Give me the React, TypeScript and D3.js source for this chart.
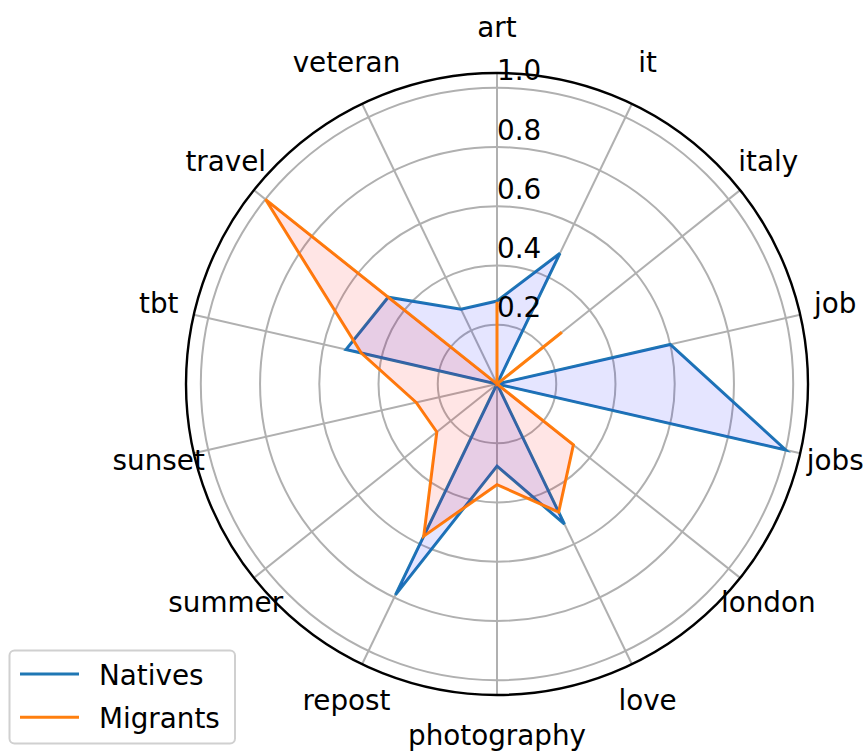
import * as d3 from 'd3';

const CATEGORIES = [
  'art', 'it', 'italy', 'job', 'jobs', 'london', 'love',
  'photography', 'repost', 'summer', 'sunset', 'tbt', 'travel', 'veteran',
];
const NATIVES = [0.28, 0.49, 0.0, 0.6, 1.0, 0.0, 0.525, 0.277, 0.79, 0.0, 0.0, 0.523, 0.47, 0.28];
const MIGRANTS = [0.278, 0.0, 0.28, 0.0, 0.0, 0.33, 0.48, 0.34, 0.57, 0.26, 0.28, 0.47, 1.0, 0.0];
const SERIES_NAMES = ['Natives', 'Migrants'];
const R_TICKS = [0.2, 0.4, 0.6, 0.8, 1.0];
const R_MAX = 1.05;

const W = 865;
const H = 751;
const CX = 497;
const CY = 384;
const FONT = '"DejaVu Sans", sans-serif';
const FS = 27.8;

const LINE_COLORS = ['#1f77b4', '#ff7f0e'];
const FILL_COLORS = ['blue', 'red'];

export default function App() {
  const r = d3.scaleLinear().domain([0, R_MAX]).range([0, 311]);
  const angle = d3
    .scaleLinear()
    .domain([0, CATEGORIES.length])
    .range([0, 2 * Math.PI]);

  const radial = d3
    .lineRadial<number>()
    .angle((_, i) => angle(i))
    .radius((d) => r(d))
    .curve(d3.curveLinearClosed);

  const series = [NATIVES, MIGRANTS];
  // label offsets outside the spine (horizontal / vertical)
  const labelRx = r(R_MAX) + 36;
  const labelRy = r(R_MAX) + 43;
  const fmt = d3.format('.1f');

  return (
    <svg
      width={W}
      height={H}
      style={{ position: 'absolute', left: 0, top: 0, background: '#fff' }}
      fontFamily={FONT}
    >
      <g transform={`translate(${CX},${CY})`}>
        {/* radial grid */}
        {R_TICKS.map((t) => (
          <circle key={t} r={r(t)} fill="none" stroke="#b0b0b0" strokeWidth={2} />
        ))}
        {/* angular grid */}
        {CATEGORIES.map((c, i) => {
          const a = angle(i);
          return (
            <line
              key={c}
              x1={0}
              y1={0}
              x2={Math.sin(a) * r(R_MAX)}
              y2={-Math.cos(a) * r(R_MAX)}
              stroke="#b0b0b0"
              strokeWidth={2}
            />
          );
        })}

        {/* series */}
        {series.map((vals, s) => (
          <g key={SERIES_NAMES[s]}>
            <path
              d={radial(vals) ?? ''}
              fill="none"
              stroke={LINE_COLORS[s]}
              strokeWidth={3}
              strokeLinejoin="miter"
            />
            <path d={radial(vals) ?? ''} fill={FILL_COLORS[s]} fillOpacity={0.1} stroke="none" />
          </g>
        ))}

        {/* spine */}
        <circle r={r(R_MAX)} fill="none" stroke="#000" strokeWidth={2.4} />

        {/* radial tick labels */}
        {R_TICKS.map((t) => (
          <text key={t} x={0} y={-r(t) - 7.5} fontSize={FS} fill="#000">
            {fmt(t)}
          </text>
        ))}

        {/* category labels */}
        {CATEGORIES.map((c, i) => {
          const a = angle(i);
          return (
            <text
              key={c}
              x={Math.sin(a) * labelRx}
              y={-Math.cos(a) * labelRy}
              dy="0.265em"
              textAnchor="middle"
              fontSize={FS}
              fill="#000"
            >
              {c}
            </text>
          );
        })}
      </g>

      {/* legend */}
      <g>
        <rect
          x={9.5}
          y={650.5}
          width={225.5}
          height={93}
          rx={5}
          fill="#fff"
          fillOpacity={0.8}
          stroke="#d0d0d0"
          strokeWidth={2}
        />
        {SERIES_NAMES.map((name, s) => {
          const y = 674 + s * 43.3;
          return (
            <g key={name}>
              <line x1={20} x2={79} y1={y} y2={y} stroke={LINE_COLORS[s]} strokeWidth={3} />
              <text x={99} y={y + 11} fontSize={FS} fill="#000">
                {name}
              </text>
            </g>
          );
        })}
      </g>
    </svg>
  );
}
